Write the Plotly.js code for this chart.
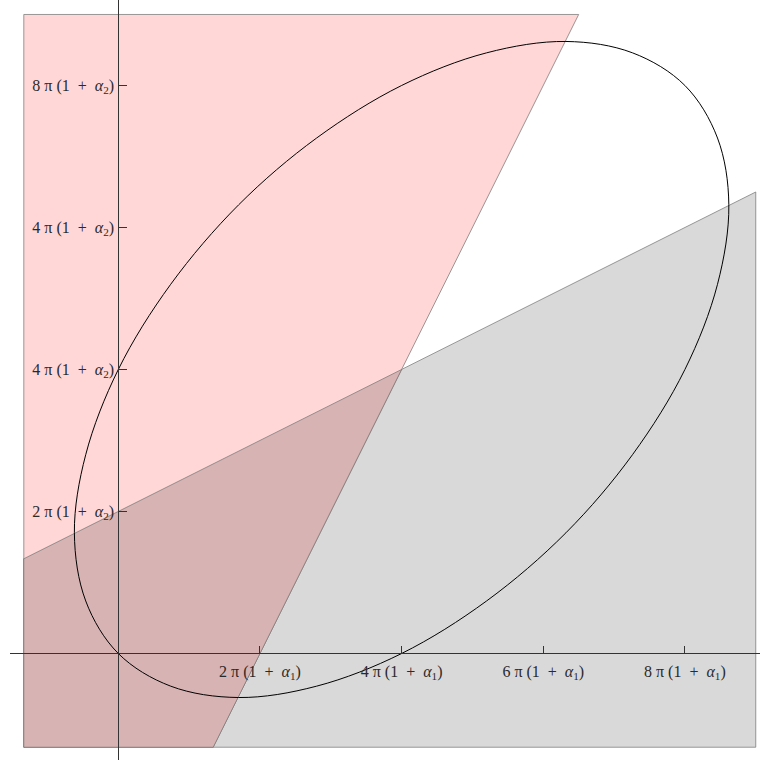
<!DOCTYPE html>
<html>
<head>
<meta charset="utf-8">
<script src="https://cdn.plot.ly/plotly-3.0.1.min.js"></script>
<style>html,body{margin:0;padding:0;background:#fff;}#chart{width:760px;height:761px;}</style>
</head>
<body>
<div id="chart"></div>
<script>
// Axis units: x in multiples of 2π(1+α1), y in multiples of 2π(1+α2)
var xTickVals = [1, 2, 3, 4];
var xTickLabels = [
  '2\u00a0π\u00a0(1\u00a0\u00a0+\u00a0\u00a0<i>α</i><sub>1</sub>)',
  '4\u00a0π\u00a0(1\u00a0\u00a0+\u00a0\u00a0<i>α</i><sub>1</sub>)',
  '6\u00a0π\u00a0(1\u00a0\u00a0+\u00a0\u00a0<i>α</i><sub>1</sub>)',
  '8\u00a0π\u00a0(1\u00a0\u00a0+\u00a0\u00a0<i>α</i><sub>1</sub>)'
];
var yTickVals = [1, 2, 3, 4];
var yTickLabels = [
  '2\u00a0π\u00a0(1\u00a0\u00a0+\u00a0\u00a0<i>α</i><sub>2</sub>)',
  '4\u00a0π\u00a0(1\u00a0\u00a0+\u00a0\u00a0<i>α</i><sub>2</sub>)',
  '4\u00a0π\u00a0(1\u00a0\u00a0+\u00a0\u00a0<i>α</i><sub>2</sub>)',
  '8\u00a0π\u00a0(1\u00a0\u00a0+\u00a0\u00a0<i>α</i><sub>2</sub>)'
];

// Region above the steep line (pink)
var pinkX = [-0.667, 3.25, 0.67, -0.667, -0.667];
var pinkY = [4.5, 4.5, -0.66, -0.66, 4.5];
// Region below the shallow line (gray)
var grayX = [-0.667, 4.5, 4.5, -0.667, -0.667];
var grayY = [0.667, 3.25, -0.66, -0.66, 0.667];
// Overlap of both regions
var bothX = [-0.667, 2, 0.67, -0.667, -0.667];
var bothY = [0.667, 2, -0.66, -0.66, 0.667];

// Closed curve
var curveX = [4, 3.63, 3.16, 2.6, 2, 1.4, 0.85, 0.37, 0, -0.23, -0.31, -0.23, 0,
              0.37, 0.85, 1.4, 2, 2.6, 3.16, 3.63, 4, 4.23, 4.31, 4.23, 4];
var curveY = [4, 4.23, 4.31, 4.23, 4, 3.63, 3.16, 2.6, 2, 1.4, 0.85, 0.37, 0,
              -0.23, -0.31, -0.23, 0, 0.37, 0.85, 1.4, 2, 2.6, 3.16, 3.63, 4];

var edge = {color: 'rgba(120,120,120,0.75)', width: 1};
var traces = [
  {x: grayX, y: grayY, mode: 'lines', fill: 'toself', fillcolor: 'rgb(217,217,217)', line: edge, hoverinfo: 'skip'},
  {x: pinkX, y: pinkY, mode: 'lines', fill: 'toself', fillcolor: 'rgb(255,215,215)', line: edge, hoverinfo: 'skip'},
  {x: bothX, y: bothY, mode: 'lines', fill: 'toself', fillcolor: 'rgb(216,179,179)', line: edge, hoverinfo: 'skip'},
  {x: curveX, y: curveY, mode: 'lines', line: {color: '#000', width: 1, shape: 'spline', smoothing: 1}, hoverinfo: 'skip'}
];

var xr = [-0.7645, 4.53];
var yr = [-0.75, 4.602];
var font = {family: 'Liberation Serif, Times New Roman, serif', size: 16, color: '#2a2a2a'};

var layout = {
  width: 760, height: 761,
  margin: {l: 10, r: 0, t: 0, b: 1, pad: 0},
  paper_bgcolor: '#fff', plot_bgcolor: 'rgba(0,0,0,0)',
  showlegend: false,
  font: font,
  xaxis: {
    range: xr, anchor: 'free', position: (0 - yr[0]) / (yr[1] - yr[0]),
    showline: true, linecolor: '#333', linewidth: 1,
    zeroline: false, showgrid: false,
    tickmode: 'array', tickvals: xTickVals, ticktext: xTickLabels,
    ticks: 'inside', ticklen: 7, tickcolor: '#333', tickwidth: 1,
    ticklabelstandoff: 3,
    tickfont: font, fixedrange: true
  },
  yaxis: {
    range: yr, anchor: 'free', position: (0 - xr[0]) / (xr[1] - xr[0]),
    showline: true, linecolor: '#333', linewidth: 1,
    zeroline: false, showgrid: false,
    tickmode: 'array', tickvals: yTickVals, ticktext: yTickLabels,
    ticks: 'inside', ticklen: 8, tickcolor: '#333', tickwidth: 1,
    ticklabelstandoff: 1,
    tickfont: font, fixedrange: true
  }
};

Plotly.newPlot('chart', traces, layout, {staticPlot: true, displayModeBar: false});
</script>
</body>
</html>
